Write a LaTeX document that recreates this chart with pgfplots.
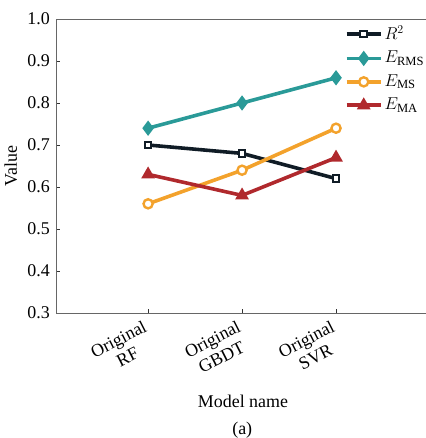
\documentclass[border=0pt]{standalone}
\usepackage{pgfplots}
\pgfplotsset{compat=1.18}
\usepackage{fontspec}
\setmainfont{Liberation Serif}
\definecolor{cR}{HTML}{101C26}
\definecolor{cRMS}{HTML}{2A9A98}
\definecolor{cMS}{HTML}{F3A22C}
\definecolor{cMA}{HTML}{B0292D}
\begin{document}
\fontsize{18}{21}\selectfont
\begin{tikzpicture}
\begin{axis}[
  scale only axis,
  width=374bp, height=294bp,
  xmin=-0.98, xmax=3.0,
  ymin=0.3, ymax=1.0,
  axis x line=box, axis y line=left,
  axis line style={-, draw=black!60, line width=0.8pt},
  xtick={0,1,2},
  xticklabels={{Original\\RF},{Original\\GBDT},{Original\\SVR}},
  xticklabel style={xshift=-5pt, yshift=-4pt, rotate=27, anchor=north east, align=center, font=\fontsize{18}{20}\selectfont, inner sep=2pt},
  ytick={0.3,0.4,...,1.0},
  yticklabel style={/pgf/number format/.cd, fixed, fixed zerofill, precision=1},
  /pgf/number format/assume math mode=true,
  tick style={draw=black!80, line width=0.6pt},
  major tick length=4pt,
  tick align=inside,
  xtick pos=bottom, ytick pos=left,
  xlabel={Model name},
  ylabel={Value},
  ticklabel style={font=\fontsize{18}{20}\selectfont},
  label style={font=\fontsize{18}{21}\selectfont},
  xlabel style={yshift=-10pt},
  ylabel style={yshift=-2pt},
  legend style={draw=none, fill=none, at={(0.772,0.985)}, anchor=north west, row sep=5pt,
    font=\fontsize{18}{21}\selectfont, legend cell align=left, inner sep=0pt},
  legend image code/.code={
    \draw[mark repeat=2, mark phase=2, #1] plot coordinates {(0cm,0cm) (0.6cm,0cm) (1.2cm,0cm)};
  },
  clip=false,
]
\addplot[cR, line width=3.6pt, mark=square*, mark size=3.4pt, mark options={fill=white, draw=cR, line width=2pt}] coordinates {(0,0.70) (1,0.68) (2,0.62)};
\addlegendentry{$R^2$}
\addplot[cRMS, line width=3.6pt, mark=diamond*, mark size=6.5pt, mark options={fill=cRMS, line width=1.5pt}] coordinates {(0,0.74) (1,0.80) (2,0.86)};
\addlegendentry{$E_{\mathrm{RMS}}$}
\addplot[cMS, line width=3.6pt, mark=*, mark size=4.6pt, mark options={fill=white, draw=cMS, line width=2.4pt}] coordinates {(0,0.56) (1,0.64) (2,0.74)};
\addlegendentry{$E_{\mathrm{MS}}$}
\addplot[cMA, line width=3.6pt, mark=triangle*, mark size=6.5pt, mark options={fill=cMA, line width=1.5pt}] coordinates {(0,0.63) (1,0.58) (2,0.67)};
\addlegendentry{$E_{\mathrm{MA}}$}
\node[font=\fontsize{18}{21}\selectfont] at (rel axis cs:0.498,0) [yshift=-117bp] {(a)};
\end{axis}
\pgfresetboundingbox
\path (-56bp,-125bp) rectangle (370bp,313bp);
\end{tikzpicture}
\end{document}
